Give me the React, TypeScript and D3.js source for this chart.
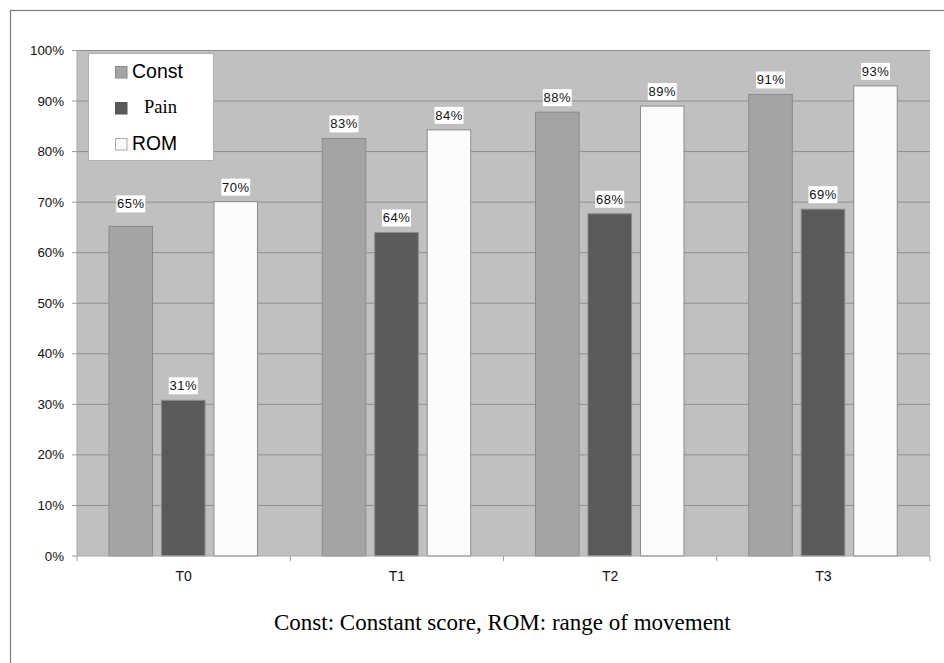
import React from "react";
import * as d3 from "d3";

const categories = ["T0", "T1", "T2", "T3"];
const seriesNames = ["Const", "Pain", "ROM"];
const constValues = [65.2, 82.6, 87.8, 91.3];
const painValues = [30.8, 64.0, 67.7, 68.6];
const romValues = [70.1, 84.3, 89.0, 93.0];
const constLabels = ["65%", "83%", "88%", "91%"];
const painLabels = ["31%", "64%", "68%", "69%"];
const romLabels = ["70%", "84%", "89%", "93%"];
const yTicks = [0, 10, 20, 30, 40, 50, 60, 70, 80, 90, 100];
const caption = "Const: Constant score, ROM: range of movement";

const colors = ["#a4a4a4", "#5a5a5a", "#fbfbfb"];

export default function App() {
  const W = 944, H = 663;
  const left = 77, right = 930, top = 50.5, bottom = 556;
  const y = d3.scaleLinear().domain([0, 100]).range([bottom, top]);
  const x = d3.scaleBand().domain(categories).range([left, right]).padding(0);
  const inner = d3
    .scaleBand()
    .domain(seriesNames)
    .range([32, 32 + 148.5])
    .paddingInner(0.17)
    .paddingOuter(0);

  const allVals = [constValues, painValues, romValues];
  const allLabels = [constLabels, painLabels, romLabels];

  const sans = "Arial, 'Liberation Sans', sans-serif";
  const serif = "'Times New Roman', 'Liberation Serif', serif";

  return (
    <svg width={W} height={H} style={{ position: "absolute", left: 0, top: 0 }}>
      <rect x={0} y={0} width={W} height={H} fill="#fff" />
      {/* outer frame */}
      <rect x={10.5} y={10.5} width={W + 20} height={H + 20} fill="none" stroke="#7a7a7a" strokeWidth={1.2} />
      {/* plot area */}
      <rect x={left} y={top} width={right - left} height={bottom - top} fill="#c0c0c0" />
      {yTicks.map((t) => (
        <g key={t}>
          {t > 0 && (
            <line x1={left} x2={right} y1={y(t)} y2={y(t)} stroke="#8e8e8e" strokeWidth={1} />
          )}
          <line x1={72} x2={left} y1={y(t)} y2={y(t)} stroke="#9a9a9a" strokeWidth={1} />
          <text x={64} y={y(t) + 4.5} textAnchor="end" fontFamily={sans} fontSize={13.3} fill="#111">
            {t}%
          </text>
        </g>
      ))}
      {/* left axis */}
      <line x1={left} x2={left} y1={top} y2={bottom} stroke="#a8a8a8" strokeWidth={1} />
      {/* bars */}
      {categories.map((c, ci) =>
        seriesNames.map((s, si) => {
          const v = allVals[si][ci];
          const bx = (x(c) as number) + (inner(s) as number);
          const bw = inner.bandwidth();
          return (
            <rect
              key={c + s}
              x={bx}
              y={y(v)}
              width={bw}
              height={bottom - y(v)}
              fill={colors[si]}
              stroke="#8a8a8a"
              strokeWidth={1}
            />
          );
        })
      )}
      {/* value labels */}
      {categories.map((c, ci) =>
        seriesNames.map((s, si) => {
          const v = allVals[si][ci];
          const cx = (x(c) as number) + (inner(s) as number) + inner.bandwidth() / 2;
          const lift = si === 0 && ci === 0 ? 14 : 6;
          const by = y(v) - lift - 17;
          return (
            <g key={"l" + c + s}>
              <rect x={cx - 14.5} y={by} width={29} height={17} fill="#fff" />
              <text
                x={cx}
                y={by + 13}
                textAnchor="middle"
                fontFamily={sans}
                fontSize={13}
                letterSpacing={0.5}
                fill="#111"
              >
                {allLabels[si][ci]}
              </text>
            </g>
          );
        })
      )}
      {/* x axis */}
      <line x1={left} x2={right} y1={bottom} y2={bottom} stroke="#a8a8a8" strokeWidth={1.2} />
      {[...categories.map((c) => x(c) as number), right].map((tx, i) => (
        <line key={i} x1={tx} x2={tx} y1={bottom} y2={bottom + 5} stroke="#a0a0a0" strokeWidth={1} />
      ))}
      {categories.map((c) => (
        <text
          key={c}
          x={(x(c) as number) + x.bandwidth() / 2}
          y={581}
          textAnchor="middle"
          fontFamily={sans}
          fontSize={14}
          fill="#111"
        >
          {c}
        </text>
      ))}
      {/* legend */}
      <rect x={88.5} y={53.5} width={125} height={107} fill="#fff" stroke="#b0b0b0" strokeWidth={1} />
      <rect x={115.5} y={66.5} width={11.5} height={11.5} fill={colors[0]} stroke="#8a8a8a" />
      <text x={132} y={77.5} fontFamily={sans} fontSize={19.5} fill="#000">
        {seriesNames[0]}
      </text>
      <rect x={115.5} y={102.5} width={11.5} height={11.5} fill={colors[1]} stroke="#555" />
      <text x={144} y={112.5} fontFamily={serif} fontSize={18.5} fill="#000">
        {seriesNames[1]}
      </text>
      <rect x={115.5} y={138.5} width={11.5} height={11.5} fill={colors[2]} stroke="#aaa" />
      <text x={132} y={149.5} fontFamily={sans} fontSize={19.3} fill="#000">
        {seriesNames[2]}
      </text>
      {/* caption */}
      <text x={274} y={630} fontFamily={serif} fontSize={23} fill="#000">
        {caption}
      </text>
    </svg>
  );
}
